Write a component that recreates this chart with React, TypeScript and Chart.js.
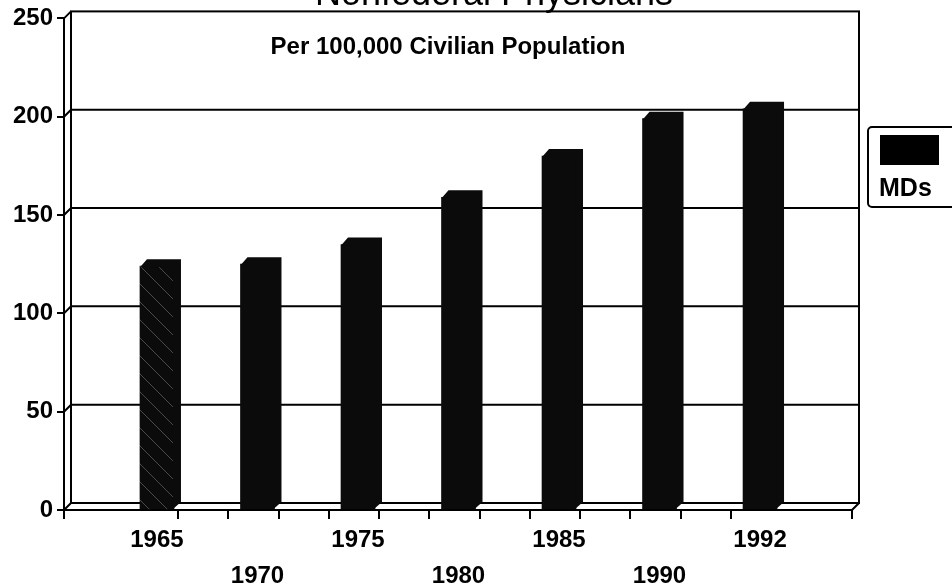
import React, { useEffect, useRef } from 'react';
import { Chart, registerables } from 'chart.js';

Chart.register(...registerables);

// ---- data ----
const years = ['1965', '1970', '1975', '1980', '1985', '1990', '1992'];
const mdsPer100k = [124, 125, 135, 159, 180, 199, 204];
const yTickValues = [0, 50, 100, 150, 200, 250];
const titleText = 'Nonfederal Physicians';
const subtitleText = 'Per 100,000 Civilian Population';
const legendLabel = 'MDs';

// ---- styling constants ----
const FONT = '"Liberation Sans", Arial, Helvetica, sans-serif';
const X_MIN = 0.075;
const X_MAX = 7.915;
const DEPTH = 7;
const BAR_COLOR = '#0b0b0b';
const tickMarkValues = [X_MIN, 1.21, 1.71, 2.21, 2.71, 3.21, 3.71, 4.21, 4.71, 5.21, 5.71, 6.21, 6.71, X_MAX];

export default function App() {
  const ref = useRef<HTMLCanvasElement>(null);

  useEffect(() => {
    const canvas = ref.current!;
    const pc = document.createElement('canvas');
    pc.width = 18;
    pc.height = 18;
    const p = pc.getContext('2d')!;
    p.fillStyle = BAR_COLOR;
    p.fillRect(0, 0, 18, 18);
    p.strokeStyle = 'rgba(170,170,170,0.4)';
    p.lineWidth = 1;
    p.beginPath();
    p.moveTo(0, 0);
    p.lineTo(18, 18);
    p.stroke();
    const hatch = canvas.getContext('2d')!.createPattern(pc, 'repeat');

    const threeD = {
      id: 'threeD',
      beforeDatasetsDraw(chart: any) {
        const { ctx, chartArea: a, scales } = chart;
        const ys = scales.y;
        const d = DEPTH;
        ctx.save();
        ctx.strokeStyle = '#000';
        ctx.lineWidth = 2;
        ctx.strokeRect(a.left + d, a.top - d, a.right - a.left, a.bottom - a.top);
        ctx.beginPath();
        ctx.moveTo(a.left, a.top);
        ctx.lineTo(a.left + d, a.top - d);
        ctx.moveTo(a.left, a.bottom);
        ctx.lineTo(a.left + d, a.bottom - d);
        ctx.moveTo(a.right, a.bottom);
        ctx.lineTo(a.right + d, a.bottom - d);
        yTickValues.forEach((v) => {
          if (v <= 0 || v >= 250) return;
          const py = ys.getPixelForValue(v);
          ctx.moveTo(a.left, py);
          ctx.lineTo(a.left + d, py - d);
          ctx.lineTo(a.right + d, py - d);
        });
        ctx.stroke();
        ctx.restore();
      },
      afterDatasetsDraw(chart: any) {
        const { ctx } = chart;
        const d = DEPTH;
        const meta = chart.getDatasetMeta(0);
        ctx.save();
        ctx.fillStyle = BAR_COLOR;
        meta.data.forEach((bar: any) => {
          const { x, y, base, width } = bar.getProps(['x', 'y', 'base', 'width'], true);
          const l = x - width / 2;
          const r = x + width / 2;
          ctx.beginPath();
          ctx.moveTo(l, y + 1);
          ctx.lineTo(l + d, y - d);
          ctx.lineTo(r + d, y - d);
          ctx.lineTo(r + d, base - d);
          ctx.lineTo(r - 1, base);
          ctx.lineTo(r - 1, y + 1);
          ctx.closePath();
          ctx.fill();
        });
        ctx.restore();
      },
      afterDraw(chart: any) {
        const { ctx } = chart;
        ctx.save();
        ctx.fillStyle = '#000';
        ctx.font = `36px ${FONT}`;
        ctx.textAlign = 'center';
        ctx.textBaseline = 'alphabetic';
        ctx.fillText(titleText, 494, 5);
        ctx.font = `bold 24px ${FONT}`;
        ctx.textBaseline = 'middle';
        ctx.fillText(subtitleText, 448, 47);
        ctx.strokeStyle = '#000';
        ctx.lineWidth = 2;
        ctx.beginPath();
        (ctx as any).roundRect(868, 127, 110, 80, 4);
        ctx.stroke();
        ctx.fillRect(880, 135, 59, 30);
        ctx.textAlign = 'left';
        ctx.font = `bold 25px ${FONT}`;
        ctx.fillText(legendLabel, 879, 189);
        ctx.restore();
      },
    };

    const chart = new Chart(canvas, {
      type: 'bar',
      data: {
        datasets: [
          {
            label: legendLabel,
            data: mdsPer100k.map((v, i) => ({ x: i + 1, y: v })),
            backgroundColor: mdsPer100k.map((_, i) => (i === 0 && hatch ? hatch : BAR_COLOR)) as any,
            borderWidth: 0,
            barThickness: 34,
            xAxisID: 'x',
            yAxisID: 'y',
          },
        ],
      },
      options: {
        responsive: false,
        animation: false,
        devicePixelRatio: 1,
        layout: { padding: { top: 18, right: 100, left: 0, bottom: 0 } },
        plugins: {
          legend: { display: false },
          tooltip: { enabled: false },
          title: { display: false },
        },
        scales: {
          y: {
            type: 'linear',
            min: 0,
            max: 250,
            afterBuildTicks: (s: any) => {
              s.ticks = yTickValues.map((v) => ({ value: v }));
            },
            ticks: {
              color: '#000',
              padding: 4,
              font: { family: FONT, size: 24, weight: 'bold' },
            },
            grid: { drawOnChartArea: false, drawTicks: true, tickLength: 7, color: '#000', lineWidth: 2 },
            border: { display: true, color: '#000', width: 2 },
            afterFit: (s: any) => {
              s.width = 64;
            },
          },
          x: {
            type: 'linear',
            position: 'bottom',
            weight: 0,
            min: X_MIN,
            max: X_MAX,
            offset: false,
            afterBuildTicks: (s: any) => {
              s.ticks = tickMarkValues.map((v) => ({ value: v }));
            },
            ticks: { display: false },
            grid: { offset: false, drawOnChartArea: false, drawTicks: true, tickLength: 9, color: '#000', lineWidth: 2 },
            border: { display: true, color: '#000', width: 2 },
            afterFit: (s: any) => {
              s.height = 9;
            },
          },
          xl: {
            type: 'linear',
            position: 'bottom',
            weight: 1,
            min: X_MIN,
            max: X_MAX,
            offset: false,
            afterBuildTicks: (s: any) => {
              s.ticks = years.map((_, i) => ({ value: i + 1 }));
            },
            ticks: {
              autoSkip: false,
              maxRotation: 0,
              minRotation: 0,
              padding: 3,
              color: '#000',
              font: { family: FONT, size: 24, weight: 'bold', lineHeight: 1.5 },
              callback: (v: any) => {
                const idx = Math.round(Number(v)) - 1;
                const label = years[idx] ?? '';
                return idx % 2 === 0 ? label : ['', label];
              },
            },
            grid: { display: false, drawTicks: false },
            border: { display: false },
            afterFit: (s: any) => {
              s.height = 67;
            },
          },
        } as any,
      },
      plugins: [threeD],
    });

    return () => chart.destroy();
  }, []);

  return (
    <div style={{ position: 'absolute', left: 0, top: 0, width: 952, height: 586, background: '#fff' }}>
      <canvas ref={ref} width={952} height={586} style={{ display: 'block', width: 952, height: 586 }} />
    </div>
  );
}
